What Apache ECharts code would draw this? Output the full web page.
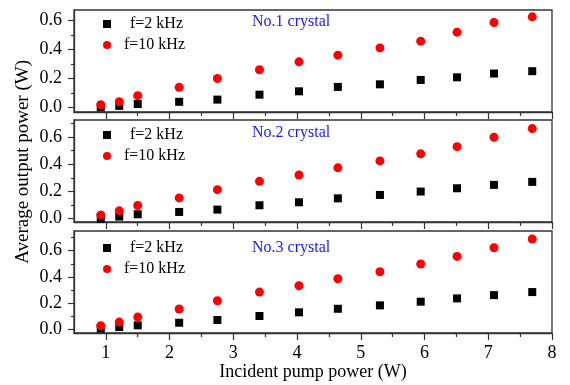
<!DOCTYPE html>
<html>
<head>
<meta charset="utf-8">
<script src="https://cdn.jsdelivr.net/npm/echarts@6/dist/echarts.min.js"></script>
<style>
html,body{margin:0;padding:0;background:#fff;}
#c{width:570px;height:385px;}
</style>
</head>
<body>
<div id="c"></div>
<script>
// ---- data ----
var pumpPower = [0.92, 1.21, 1.5, 2.15, 2.75, 3.41, 4.03, 4.64, 5.30, 5.94, 6.51, 7.09, 7.69];
var crystal1_2k  = [0.002, 0.012, 0.025, 0.040, 0.055, 0.089, 0.112, 0.142, 0.160, 0.190, 0.208, 0.234, 0.250];
var crystal1_10k = [0.020, 0.040, 0.082, 0.140, 0.200, 0.260, 0.314, 0.360, 0.410, 0.456, 0.518, 0.584, 0.623];
var crystal2_2k  = [0.000, 0.015, 0.032, 0.049, 0.066, 0.098, 0.120, 0.149, 0.174, 0.199, 0.223, 0.248, 0.270];
var crystal2_10k = [0.027, 0.057, 0.096, 0.152, 0.213, 0.274, 0.321, 0.373, 0.424, 0.476, 0.529, 0.598, 0.662];
var crystal3_2k  = [0.008, 0.020, 0.033, 0.053, 0.074, 0.104, 0.132, 0.159, 0.185, 0.213, 0.238, 0.263, 0.286];
var crystal3_10k = [0.030, 0.058, 0.096, 0.157, 0.220, 0.286, 0.334, 0.387, 0.440, 0.499, 0.557, 0.623, 0.689];
var panelTitles = ['No.1 crystal', 'No.2 crystal', 'No.3 crystal'];
var seriesNames = ['f=2 kHz', 'f=10 kHz'];
var xMajorTicks = [1, 2, 3, 4, 5, 6, 7, 8];
var xMinorTicks = [1.5, 2.5, 3.5, 4.5, 5.5, 6.5, 7.5];
var yMajorTicks = [0.0, 0.2, 0.4, 0.6];
var yMinorTicks = [0.1, 0.3, 0.5, 0.7];
var xTitle = 'Incident pump power (W)';
var yTitle = 'Average output power (W)';

// ---- layout ----
var FONT = "'Liberation Serif','Times New Roman',serif";
var gridTops = [10, 120, 231];
var gridH = 102;
var yRanges = [[-0.03, 0.67], [-0.025, 0.725], [-0.025, 0.75]];
var legendTops = [16, 127, 240];
var titleTops = [14, 125, 240];
var panelData = [[crystal1_2k, crystal1_10k], [crystal2_2k, crystal2_10k], [crystal3_2k, crystal3_10k]];
var AX = '#333';

function pairs(xs, ys) { return xs.map(function (x, i) { return [x, ys[i]]; }); }

var grid = [], xAxis = [], yAxis = [], series = [], legend = [], title = [];
for (var p = 0; p < 3; p++) {
  grid.push({ left: 74, right: 18, top: gridTops[p], height: gridH, show: true,
              borderColor: AX, borderWidth: 1.3, backgroundColor: 'transparent' });
  var last = (p === 2);
  xAxis.push({
    type: 'value', gridIndex: p, min: 0.5, max: 8, position: 'bottom',
    axisLine: { show: true, onZero: false, lineStyle: { color: AX, width: 1.3 } },
    axisTick: { show: true, inside: false, length: 7, customValues: xMajorTicks, lineStyle: { color: AX, width: 1.2 } },
    axisLabel: { show: last, customValues: xMajorTicks, margin: 11, fontSize: 18, color: '#000', fontFamily: FONT },
    splitLine: { show: false },
    name: last ? xTitle : '', nameLocation: 'middle', nameGap: 30,
    nameTextStyle: { fontSize: 18, color: '#000', fontFamily: FONT }
  });
  xAxis.push({
    type: 'value', gridIndex: p, min: 0.5, max: 8, position: 'bottom',
    axisLine: { show: false, onZero: false },
    axisTick: { show: true, inside: false, length: 4, customValues: xMinorTicks, lineStyle: { color: AX, width: 1.2 } },
    axisLabel: { show: false }, splitLine: { show: false }
  });
  var yMinor = yMinorTicks.filter(function (v) { return v <= yRanges[p][1]; });
  yAxis.push({
    type: 'value', gridIndex: p, min: yRanges[p][0], max: yRanges[p][1], position: 'left',
    axisLine: { show: true, onZero: false, lineStyle: { color: AX, width: 1.3 } },
    axisTick: { show: true, inside: false, length: 6, customValues: yMajorTicks, lineStyle: { color: AX, width: 1.2 } },
    axisLabel: { show: true, customValues: yMajorTicks, margin: 12, fontSize: 18, color: '#000', fontFamily: FONT,
                 formatter: function (v) { return Number(v).toFixed(1); } },
    splitLine: { show: false }
  });
  yAxis.push({
    type: 'value', gridIndex: p, min: yRanges[p][0], max: yRanges[p][1], position: 'left', offset: 0,
    axisLine: { show: false, onZero: false },
    axisTick: { show: true, inside: false, length: 3, customValues: yMinor, lineStyle: { color: AX, width: 1.2 } },
    axisLabel: { show: false }, splitLine: { show: false }
  });
  series.push({
    type: 'scatter', name: seriesNames[0], xAxisIndex: 2 * p, yAxisIndex: 2 * p,
    symbol: 'rect', symbolSize: 8, itemStyle: { color: '#000', opacity: 1 },
    data: pairs(pumpPower, panelData[p][0])
  });
  series.push({
    type: 'scatter', name: seriesNames[1], xAxisIndex: 2 * p, yAxisIndex: 2 * p,
    symbol: 'circle', symbolSize: 9, itemStyle: { color: '#ff0000', opacity: 1 },
    data: pairs(pumpPower, panelData[p][1])
  });
  legend.push({
    orient: 'vertical', left: 103, top: legendTops[p], padding: 0, itemGap: 5,
    itemWidth: 8, itemHeight: 8, selectedMode: false,
    data: [{ name: seriesNames[0], icon: 'rect' }, { name: seriesNames[1], icon: 'circle' }],
    formatter: function (name) { return name === seriesNames[0] ? '{a|' + name + '}' : '{b|' + name + '}'; },
    textStyle: { fontSize: 16, color: '#000', fontFamily: FONT,
      rich: { a: { fontSize: 16, fontFamily: FONT, color: '#000', padding: [0, 0, 0, 14] },
              b: { fontSize: 16, fontFamily: FONT, color: '#000', padding: [0, 0, 0, 8] } } }
  });
  title.push({
    text: panelTitles[p], left: 252, top: titleTops[p], padding: 0,
    textStyle: { fontSize: 16, fontWeight: 'normal', color: '#1a1aff', fontFamily: FONT }
  });
}

var chart = echarts.init(document.getElementById('c'), null, { renderer: 'canvas' });
chart.setOption({
  backgroundColor: '#fff',
  animation: false,
  grid: grid, xAxis: xAxis, yAxis: yAxis, series: series, legend: legend, title: title,
  graphic: [{
    type: 'text', left: 14, top: 60, rotation: Math.PI / 2,
    style: { text: yTitle, fontSize: 19, fill: '#000', fontFamily: FONT }
  }]
});
</script>
</body>
</html>
